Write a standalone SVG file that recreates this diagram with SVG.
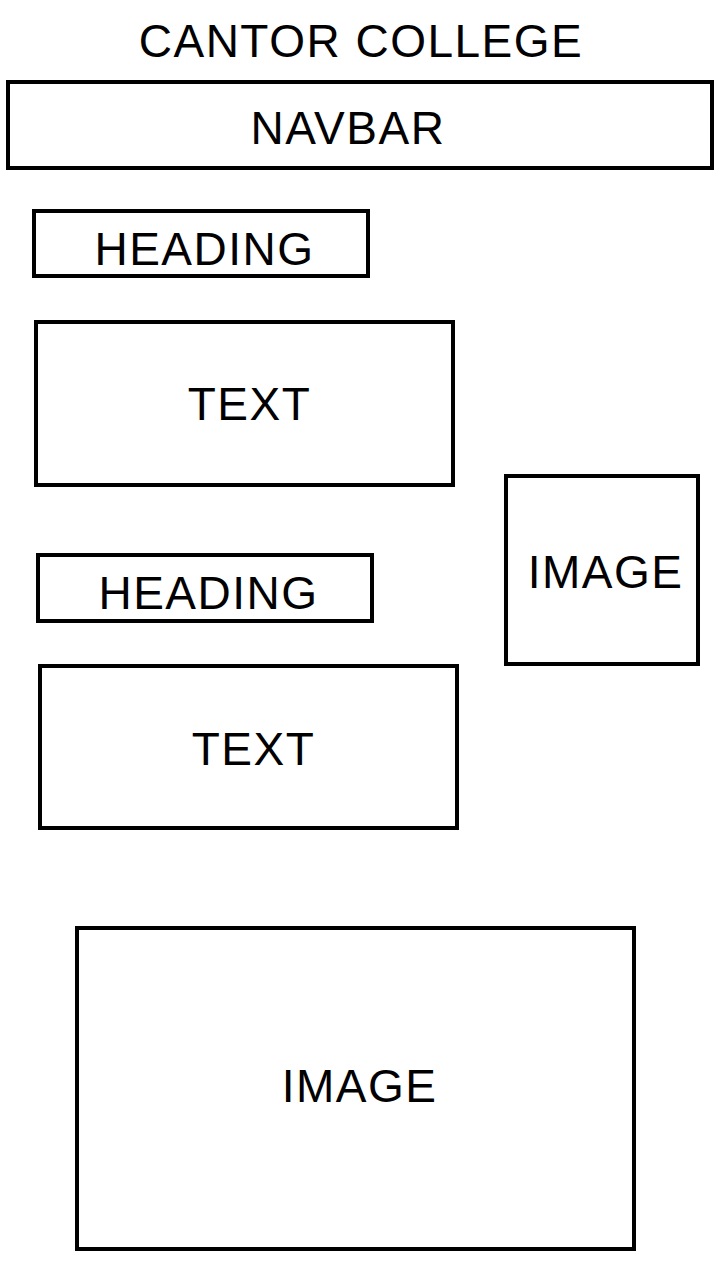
<svg xmlns="http://www.w3.org/2000/svg" width="720" height="1280" viewBox="0 0 720 1280">
<style>
.box{fill:#fff;stroke:#000;stroke-width:4}
.lbl{font-family:"Liberation Sans",Arial,sans-serif;font-size:46px;letter-spacing:1.5px;fill:#000;text-anchor:middle}
</style>
<rect width="720" height="1280" fill="#fff"/>
<g id="title"><text class="lbl" x="361" y="57">CANTOR COLLEGE</text></g>
<g id="navbar"><rect class="box" x="8" y="82" width="704" height="86"/><text class="lbl" x="348" y="144">NAVBAR</text></g>
<g id="heading1"><rect class="box" x="34" y="211" width="334" height="65"/><text class="lbl" x="204.5" y="265">HEADING</text></g>
<g id="text1"><rect class="box" x="36" y="322" width="417" height="163"/><text class="lbl" x="249.5" y="420">TEXT</text></g>
<g id="image1"><rect class="box" x="506" y="476" width="192" height="188"/><text class="lbl" x="605.5" y="588">IMAGE</text></g>
<g id="heading2"><rect class="box" x="38" y="555" width="334" height="66"/><text class="lbl" x="208.5" y="609">HEADING</text></g>
<g id="text2"><rect class="box" x="40" y="666" width="417" height="162"/><text class="lbl" x="253.5" y="765">TEXT</text></g>
<g id="image2"><rect class="box" x="77" y="928" width="557" height="321"/><text class="lbl" x="359.5" y="1102">IMAGE</text></g>
<g id="connectors"/>
</svg>
